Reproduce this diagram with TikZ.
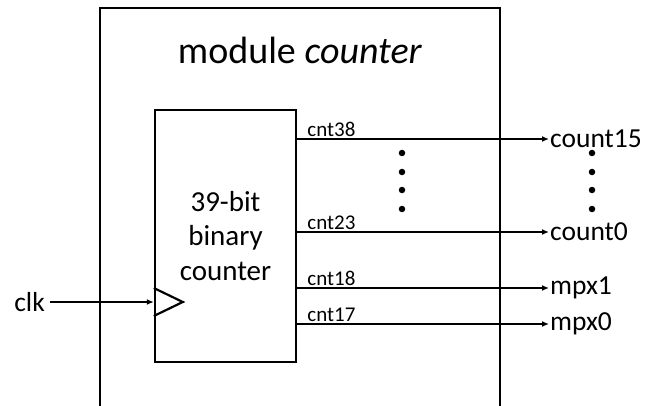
\documentclass[tikz,border=0pt]{standalone}
\usepackage{fontspec}
\setmainfont{Carlito}
\usetikzlibrary{arrows.meta,positioning,calc}
\tikzset{
  modbox/.style={line width=2pt},
  blockbox/.style={draw, line width=2.4pt, minimum width=141pt, minimum height=252pt,
                   inner sep=0pt, align=center, font=\fontsize{29}{34.5}\selectfont},
  sig/.style={font=\fontsize{27.5}{30}\selectfont, inner sep=1pt},
  bus/.style={font=\fontsize{21}{22}\selectfont, inner sep=1pt, anchor=south west},
  arr/.style={-{Latex[length=7pt,width=6pt]}, line width=1.5pt},
  vdot/.style={circle, fill, inner sep=0pt, minimum size=6.5pt},
}
\begin{document}
\begin{tikzpicture}[x=1pt,y=-1pt]
  \useasboundingbox (0,0) rectangle (647,406);
  % module frame, open at the bottom
  \draw[modbox] (100,406) -- (100,8) -- (500,8) -- (500,406);
  \node[font=\fontsize{38}{40}\selectfont, anchor=base] (title) at (300,64) {module \textit{counter}};

  \node[blockbox] (blk) at (225.5,236) {39-bit\\binary\\counter};

  % clock input
  \node[sig, inner xsep=5pt, anchor=east] (clk) at (50,302) {clk};
  \coordinate (ck) at (blk.west |- clk);
  \draw[arr] (clk.east) -- (ck);
  \draw[line width=2.2pt, line join=miter] ($(ck)+(0,-14)$) -- ++(29,14) -- ++(-29,14);

  % outputs
  \node[sig, anchor=west] (q15) at (549,139) {count15};
  \node[sig, anchor=west] (q0)  at (549,232) {count0};
  \node[sig, anchor=west] (m1)  at (549,288) {mpx1};
  \node[sig, anchor=west] (m0)  at (549,324) {mpx0};

  \draw[arr] (blk.east |- q15.west) -- (q15.west);
  \draw[arr] (blk.east |- q0.west) -- (q0.west);
  \draw[arr] (blk.east |- m1.west) -- (m1.west);
  \draw[arr] (blk.east |- m0.west) -- (m0.west);

  \node[bus] (b38) at ($(blk.east |- q15.west)+(9,-1)$) {cnt38};
  \node[bus] (b23) at ($(blk.east |- q0.west)+(9,-1)$) {cnt23};
  \node[bus] (b18) at ($(blk.east |- m1.west)+(9,-1)$) {cnt18};
  \node[bus] (b17) at ($(blk.east |- m0.west)+(9,-1)$) {cnt17};

  \foreach \y in {153,172,190,209} {
    \node[vdot] (dl\y) at (402,\y) {};
    \node[vdot] (dr\y) at (592,\y) {};
  }
\end{tikzpicture}
\end{document}
